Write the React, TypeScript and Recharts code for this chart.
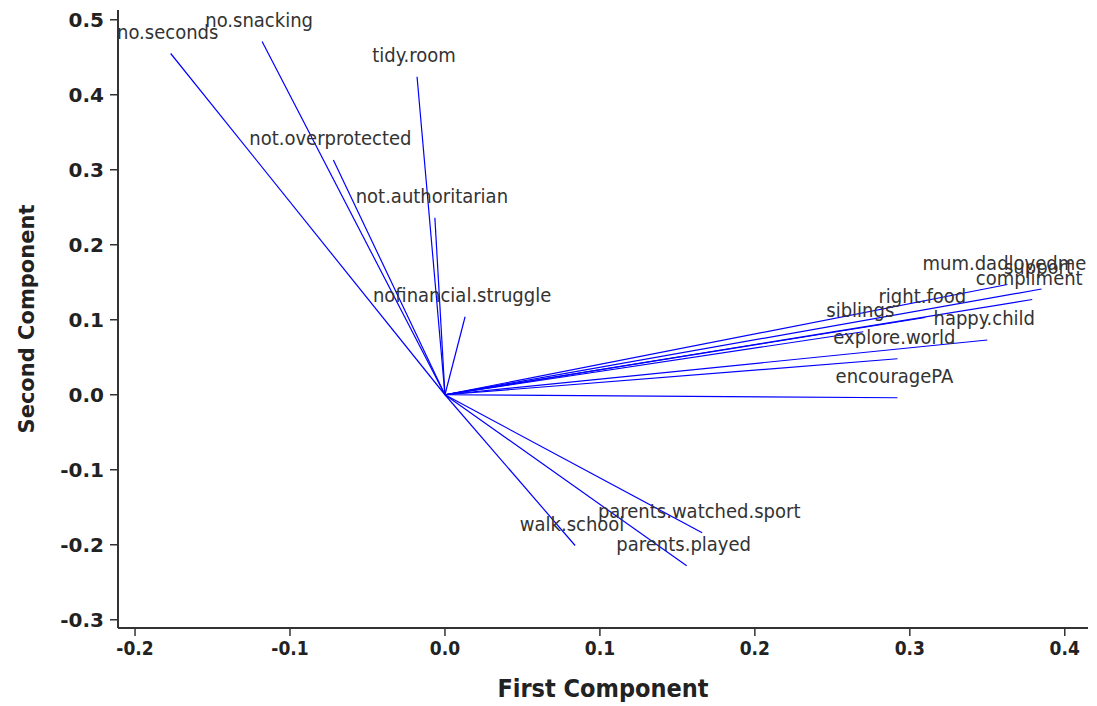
import React from "react";
import { ScatterChart, Scatter, XAxis, YAxis } from "recharts";

// loadings
const names = [
  "no.seconds",
  "no.snacking",
  "tidy.room",
  "not.overprotected",
  "not.authoritarian",
  "nofinancial.struggle",
  "mum.dadlovedme",
  "support",
  "compliment",
  "right.food",
  "siblings",
  "happy.child",
  "explore.world",
  "encouragePA",
  "walk.school",
  "parents.watched.sport",
  "parents.played",
];
const firstComponent = [
  -0.177, -0.118, -0.018, -0.072, -0.0065, 0.013, 0.363, 0.385, 0.379, 0.31,
  0.27, 0.35, 0.292, 0.292, 0.084, 0.166, 0.156,
];
const secondComponent = [
  0.455, 0.471, 0.424, 0.313, 0.236, 0.104, 0.147, 0.141, 0.127, 0.103, 0.084,
  0.073, 0.048, -0.004, -0.201, -0.184, -0.228,
];
const xTicks = [-0.2, -0.1, 0, 0.1, 0.2, 0.3, 0.4];
const yTicks = [-0.3, -0.2, -0.1, 0, 0.1, 0.2, 0.3, 0.4, 0.5];

const vectors = names.map((name, i) => ({
  name,
  x: firstComponent[i],
  y: secondComponent[i],
}));

const condensed = "'DejaVu Sans Condensed', 'DejaVu Sans', sans-serif";

function VarLabel(props: any) {
  const { cx, cy, payload } = props;
  return (
    <text
      x={cx - 3}
      y={cy - 15}
      textAnchor="middle"
      fontFamily={condensed}
      fontSize={20}
      fill="#333"
    >
      {payload.name}
    </text>
  );
}

function XTitle(props: any) {
  const { x, y, width, height } = props.viewBox;
  return (
    <text
      x={x + width / 2}
      y={y + height - 9}
      textAnchor="middle"
      fontFamily={condensed}
      fontWeight="bold"
      fontSize={25}
      fill="#222"
    >
      First Component
    </text>
  );
}

function YTitle(props: any) {
  const { y, height } = props.viewBox;
  const cx = 27;
  const cy = y + height / 2;
  return (
    <text
      x={cx}
      y={cy}
      transform={`rotate(-90 ${cx} ${cy})`}
      textAnchor="middle"
      dominantBaseline="central"
      fontFamily="'DejaVu Sans', sans-serif"
      fontWeight="bold"
      fontSize={21}
      fill="#222"
    >
      Second Component
    </text>
  );
}

export default function App() {
  return (
    <div style={{ position: "absolute", left: 0, top: 0, background: "#fff" }}>
      <ScatterChart
        width={1097}
        height={706}
        margin={{ top: 10, right: 9, bottom: 0, left: 0 }}
      >
        <XAxis
          type="number"
          dataKey="x"
          domain={[-0.211, 0.415]}
          ticks={xTicks}
          allowDataOverflow
          height={78}
          tickSize={8}
          tickMargin={6}
          tickFormatter={(v: number) => v.toFixed(1)}
          axisLine={{ stroke: "#333", strokeWidth: 2 }}
          tickLine={{ stroke: "#333", strokeWidth: 1.5 }}
          tick={{ fontFamily: condensed, fontSize: 19, fill: "#222", fontWeight: "bold" }}
          label={{ content: XTitle }}
        />
        <YAxis
          type="number"
          dataKey="y"
          domain={[-0.311, 0.513]}
          ticks={yTicks}
          allowDataOverflow
          width={118}
          tickSize={8}
          tickMargin={6}
          tickFormatter={(v: number) => v.toFixed(1)}
          axisLine={{ stroke: "#333", strokeWidth: 2 }}
          tickLine={{ stroke: "#333", strokeWidth: 1.5 }}
          tick={{ fontFamily: "'DejaVu Sans', sans-serif", fontSize: 20, fill: "#222", fontWeight: "bold" }}
          label={{ content: YTitle }}
        />
        {vectors.map((v) => (
          <Scatter
            key={v.name}
            data={[{ x: 0, y: 0 }, { x: v.x, y: v.y }]}
            line={{ stroke: "#0000ff", strokeWidth: 1.2 }}
            shape={() => <g />}
            isAnimationActive={false}
          />
        ))}
        <Scatter data={vectors} shape={VarLabel} isAnimationActive={false} />
      </ScatterChart>
    </div>
  );
}
